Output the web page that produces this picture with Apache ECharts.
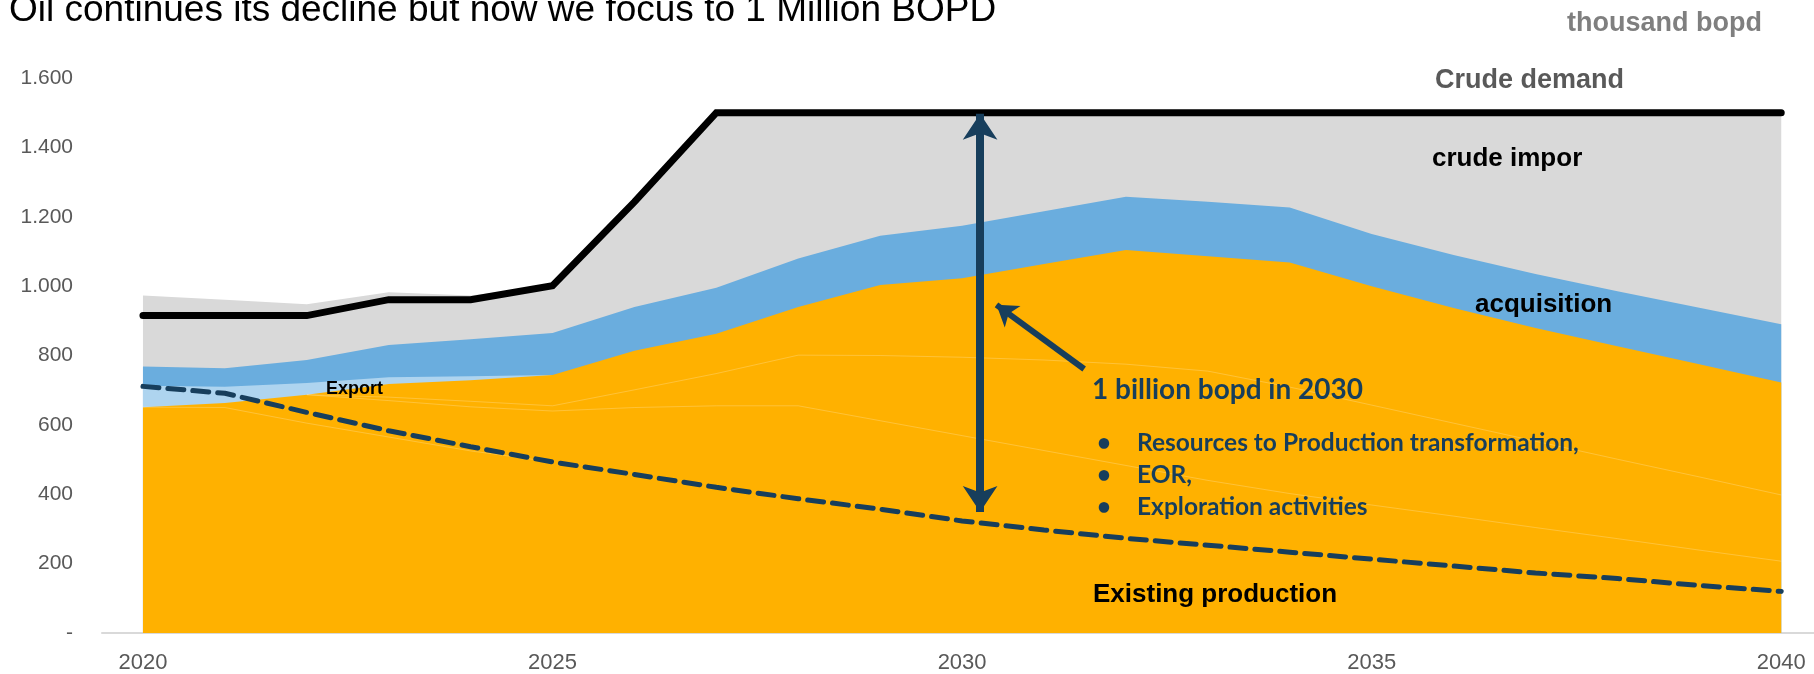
<!DOCTYPE html>
<html>
<head>
<meta charset="utf-8">
<script src="https://cdn.jsdelivr.net/npm/echarts@6/dist/echarts.min.js"></script>
<style>
html,body{margin:0;padding:0;background:#fff;}
#chart{width:1814px;height:674px;}
</style>
</head>
<body>
<div id="chart"></div>
<script>
// ---- data (thousand bopd) ----
const years = [2020,2021,2022,2023,2024,2025,2026,2027,2028,2029,2030,2031,2032,2033,2034,2035,2036,2037,2038,2039,2040];
const xTickLabels = [2020,2025,2030,2035,2040];
const crudeDemand    = [915,915,915,961,961,1001,1243,1500,1500,1500,1500,1500,1500,1500,1500,1500,1500,1500,1500,1500,1500];
const crudeImportTop = [973,961,948,982,973,1001,1243,1500,1500,1500,1500,1500,1500,1500,1500,1500,1500,1500,1500,1500,1500];
const acquisitionTop = [768,763,787,830,847,865,940,995,1080,1145,1174,1216,1258,1243,1227,1150,1090,1035,985,938,890];
const exportTop      = [713,710,721,737,740,744];                 // 2020-2025
const productionTop  = [651,663,687,718,729,744,814,863,940,1003,1023,1064,1104,1086,1068,1000,937,879,827,775,722];
const existingProd   = [711,691,636,583,537,493,457,420,387,357,323,297,273,253,233,213,193,173,157,137,120];
const subLineA       = [651,650,605,565,525,493];                 // 2020-2025
const subLineB       = [687,680,668,655,701,748,801,800,795,787,775,755,709,657,605,553,501,450,398]; // 2022-2040
const subLineC       = [687,670,652,640,650,655,655,612,569,526,483,440,402,369,337,304,272,239,207]; // 2022-2040
const yTicks = [0,200,400,600,800,1000,1200,1400,1600];

const pairs = (ys, vs) => vs.map((v,i) => [ys[i], v]);
const NAVY = '#173E5C';

const chart = echarts.init(document.getElementById('chart'), null, {renderer:'canvas'});

function area(name, ys, vs, color){
  return {name, type:'line', data:pairs(ys, vs), symbol:'none', silent:true,
    lineStyle:{width:0}, areaStyle:{color, opacity:1}};
}
function thin(name, ys, vs){
  return {name, type:'line', data:pairs(ys, vs), symbol:'none', silent:true,
    lineStyle:{width:1, color:'rgba(255,255,255,0.22)'}};
}

const labelFont = '"Liberation Sans", Arial, sans-serif';
const noteFont = 'Lato, "Open Sans", sans-serif';
function txt(text, x, y, size, color, weight, family){
  return {type:'text', silent:true, z:100, style:{text, x, y, fill:color,
    font:(weight||'bold')+' '+size+'px '+(family||labelFont), align:'left', verticalAlign:'middle'}};
}

chart.setOption({
  animation:false,
  backgroundColor:'#ffffff',
  grid:{left:102, right:0, top:78, bottom:39, containLabel:false},
  xAxis:{type:'value', min:2019.5, max:2040.4,
    axisLine:{show:true, onZero:true, lineStyle:{color:'#D9D9D9', width:2}},
    axisTick:{show:false}, splitLine:{show:false},
    axisLabel:{customValues:xTickLabels, color:'#595959', fontSize:22, fontFamily:labelFont, margin:19,
      formatter:v=>String(v)}},
  yAxis:{type:'value', min:0, max:1600, interval:200,
    axisLine:{show:false}, axisTick:{show:false}, splitLine:{show:false},
    axisLabel:{color:'#595959', fontSize:21, fontFamily:labelFont, margin:29,
      customValues:yTicks,
      formatter:v=> v===0 ? '-' : String(v).replace(/\B(?=(\d{3})+(?!\d))/g,'.')}},
  series:[
    area('crude import', years, crudeImportTop, '#D9D9D9'),
    area('acquisition', years, acquisitionTop, '#6AADDE'),
    area('export', years.slice(0,6), exportTop, '#AED4EF'),
    area('production', years, productionTop, '#FFB100'),
    thin('sub A', years.slice(0,6), subLineA),
    thin('sub B', years.slice(2), subLineB),
    thin('sub C', years.slice(2), subLineC),
    {name:'existing production', type:'line', data:pairs(years, existingProd), symbol:'none', silent:true,
      lineStyle:{width:5, color:NAVY, type:[16,9], cap:'round'}},
    {name:'crude demand', type:'line', data:pairs(years, crudeDemand), symbol:'none', silent:true,
      lineStyle:{width:7, color:'#000000', cap:'round', join:'miter'}},
    {name:'arrows', type:'line', data:[], silent:true,
      markLine:{silent:true, animation:false, label:{show:false}, emphasis:{disabled:true},
        data:[
          [{coord:[2030.22, 349], symbol:'arrow', symbolSize:[26,26], lineStyle:{width:8, color:NAVY, type:'solid'}},
           {coord:[2030.22, 1497], symbol:'arrow', symbolSize:[26,26]}],
          [{coord:[2031.49, 761], symbol:'none', lineStyle:{width:6, color:NAVY, type:'solid'}},
           {coord:[2030.42, 946], symbol:'arrow', symbolSize:[20,20]}]
        ]}}
  ],
  graphic:[
    txt('Oil continues its decline but now we focus to 1 Million BOPD', 9, 11, 37, '#000000', 'normal'),
    txt('thousand bopd', 1567, 24, 27, '#7F7F7F'),
    txt('Crude demand', 1435, 81, 27, '#595959'),
    txt('crude impor', 1432, 159, 26, '#000000'),
    txt('acquisition', 1475, 305, 26, '#000000'),
    txt('Export', 326, 389, 18, '#000000'),
    txt('Existing production', 1093, 595, 26, '#000000'),
    txt('1 billion bopd in 2030', 1092, 390, 28, NAVY, 'bold', noteFont),
    txt('\u2022', 1097, 443, 24, NAVY, 'bold', noteFont),
    txt('\u2022', 1097, 475, 24, NAVY, 'bold', noteFont),
    txt('\u2022', 1097, 507, 24, NAVY, 'bold', noteFont),
    txt('Resources to Production transformation,', 1137, 443, 24.5, NAVY, 'bold', noteFont),
    txt('EOR,', 1137, 475, 24.5, NAVY, 'bold', noteFont),
    txt('Exploration activities', 1137, 507, 24.5, NAVY, 'bold', noteFont)
  ]
});
</script>
</body>
</html>
